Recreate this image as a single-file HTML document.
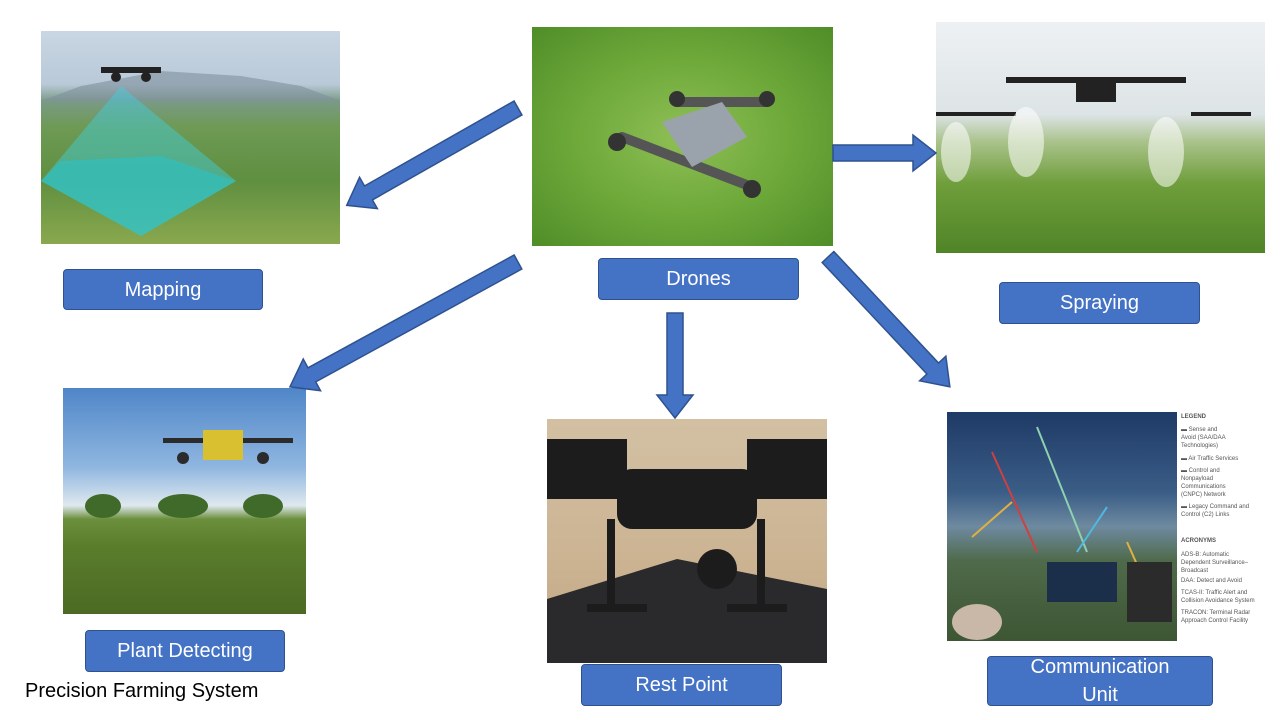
<!DOCTYPE html>
<html><head><meta charset="utf-8"><style>
body{margin:0;width:1280px;height:720px;background:#fff;position:relative;overflow:hidden;font-family:"Liberation Sans",sans-serif}
.img{position:absolute;overflow:hidden}
.lbl{position:absolute;background:#4472C4;border:1.5px solid #2F528F;border-radius:4px;color:#fff;font-size:20px;display:flex;align-items:center;justify-content:center;text-align:center;line-height:28px;box-sizing:border-box}
.leg{position:absolute;left:1181px;font-size:6px;color:#555;line-height:8px}
</style></head><body>

<div class="img" style="left:41px;top:31px;width:299px;height:213px;background:linear-gradient(180deg,#c9d6e3 0%,#b9c9d8 25%,#7a9a86 33%,#6e9a55 45%,#5f8f40 70%,#8aa84e 100%)">
<svg width="299" height="213" style="position:absolute;left:0;top:0">
<polygon points="120,40 200,45 260,55 300,70 0,70 40,55" fill="#7f8f9c" opacity=".6"/>
<polygon points="80,55 0,150 100,205 195,150" fill="#3fd0e0" opacity=".45"/>
<polygon points="0,150 100,205 195,150 120,125 20,130" fill="#2bc2c8" opacity=".6"/>
<g fill="#222"><rect x="60" y="36" width="60" height="6"/><circle cx="75" cy="46" r="5"/><circle cx="105" cy="46" r="5"/></g>
</svg></div>

<div class="img" style="left:532px;top:27px;width:301px;height:219px;background:radial-gradient(ellipse at 50% 50%,#8fbf55 0%,#6ea93a 50%,#4f8d28 100%)">
<svg width="301" height="219" style="position:absolute;left:0;top:0">
<g stroke="#555" stroke-width="10" stroke-linecap="round"><line x1="90" y1="110" x2="220" y2="160"/><line x1="150" y1="70" x2="230" y2="180" stroke-width="0"/><line x1="145" y1="75" x2="235" y2="75"/></g>
<polygon points="130,95 190,75 215,110 160,140" fill="#9aa3ab"/>
<circle cx="85" cy="115" r="9" fill="#333"/><circle cx="220" cy="162" r="9" fill="#333"/><circle cx="145" cy="72" r="8" fill="#333"/><circle cx="235" cy="72" r="8" fill="#333"/>
</svg></div>

<div class="img" style="left:936px;top:22px;width:329px;height:231px;background:linear-gradient(180deg,#eef1f3 0%,#dde4e6 40%,#a9c28a 52%,#6f9e3b 70%,#4f8427 100%)">
<svg width="329" height="231" style="position:absolute;left:0;top:0">
<g fill="#222"><rect x="70" y="55" width="180" height="6"/><rect x="140" y="60" width="40" height="20"/><rect x="0" y="90" width="80" height="4"/><rect x="255" y="90" width="60" height="4"/></g>
<g fill="#fff" opacity=".55"><ellipse cx="20" cy="130" rx="15" ry="30"/><ellipse cx="90" cy="120" rx="18" ry="35"/><ellipse cx="230" cy="130" rx="18" ry="35"/></g>
</svg></div>

<div class="img" style="left:63px;top:388px;width:243px;height:226px;background:linear-gradient(180deg,#4f86c8 0%,#8fb6e0 35%,#dfe8ee 52%,#6b8f3c 58%,#5a7d2c 70%,#4c6a23 100%)">
<svg width="243" height="226" style="position:absolute;left:0;top:0">
<g fill="#2b2b2b"><rect x="100" y="50" width="130" height="5"/><rect x="140" y="42" width="40" height="30" fill="#d8c030"/><circle cx="120" cy="70" r="6"/><circle cx="200" cy="70" r="6"/></g>
<g fill="#3f6a2a"><ellipse cx="40" cy="118" rx="18" ry="12"/><ellipse cx="120" cy="118" rx="25" ry="12"/><ellipse cx="200" cy="118" rx="20" ry="12"/></g>
</svg></div>

<div class="img" style="left:547px;top:419px;width:280px;height:244px;background:linear-gradient(180deg,#d3c0a3 0%,#cbb392 60%,#bfa684 100%)">
<svg width="280" height="244" style="position:absolute;left:0;top:0">
<polygon points="0,180 130,140 280,170 280,244 0,244" fill="#2a2a2c"/>
<g fill="#1c1c1c"><rect x="0" y="20" width="80" height="60"/><rect x="200" y="20" width="80" height="60"/><rect x="70" y="50" width="140" height="60" rx="15"/><rect x="60" y="100" width="8" height="90"/><rect x="210" y="100" width="8" height="90"/><rect x="40" y="185" width="60" height="8"/><rect x="180" y="185" width="60" height="8"/><circle cx="170" cy="150" r="20"/></g>
</svg></div>

<div class="img" style="left:947px;top:412px;width:230px;height:229px;background:linear-gradient(180deg,#1e3a66 0%,#3a5d86 35%,#6e8aa0 50%,#4f6a4a 65%,#3d5634 100%)">
<svg width="230" height="229" style="position:absolute;left:0;top:0">
<g stroke-width="2"><line x1="90" y1="15" x2="140" y2="140" stroke="#8fd0b0"/><line x1="45" y1="40" x2="90" y2="140" stroke="#d04040"/><line x1="65" y1="90" x2="25" y2="125" stroke="#e0b040"/><line x1="180" y1="130" x2="200" y2="175" stroke="#e0b040"/><line x1="160" y1="95" x2="130" y2="140" stroke="#50b8e0"/></g>
<rect x="100" y="150" width="70" height="40" fill="#1c2f4a"/><rect x="180" y="150" width="45" height="60" fill="#2b2b2b"/><ellipse cx="30" cy="210" rx="25" ry="18" fill="#c9b8a8"/>
</svg></div>
<div class="leg" style="top:413px;font-weight:bold">LEGEND</div>
<div class="leg" style="top:426px">▬ Sense and<br>Avoid (SAA/DAA<br>Technologies)</div>
<div class="leg" style="top:455px">▬ Air Traffic Services</div>
<div class="leg" style="top:467px">▬ Control and<br>Nonpayload<br>Communications<br>(CNPC) Network</div>
<div class="leg" style="top:503px">▬ Legacy Command and<br>Control (C2) Links</div>
<div class="leg" style="top:537px;font-weight:bold">ACRONYMS</div>
<div class="leg" style="top:551px">ADS-B: Automatic<br>Dependent Surveillance–<br>Broadcast</div>
<div class="leg" style="top:577px">DAA: Detect and Avoid</div>
<div class="leg" style="top:589px">TCAS-II: Traffic Alert and<br>Collision Avoidance System</div>
<div class="leg" style="top:609px">TRACON: Terminal Radar<br>Approach Control Facility</div>

<svg width="1280" height="720" style="position:absolute;left:0;top:0">
<defs><polygon id="ar" points="0,-8 -22,-8 -22,-18 0,0 -22,18 -22,8 0,8" /></defs>
<g fill="#4472C4" stroke="#2F528F" stroke-width="1.5">
<g transform="translate(347,205) rotate(150.4)"><polygon points="0,-8 197,-8 197,8 0,8" transform="rotate(180)" style="display:none"/></g>
</g>
<g fill="#4472C4" stroke="#2F528F" stroke-width="1.5">
<polygon transform="translate(518,108) rotate(150.4)" points="0,-8 172,-8 172,-18 197,0 172,18 172,8 0,8"/>
<polygon transform="translate(833,153)" points="0,-8 80,-8 80,-18 103,0 80,18 80,8 0,8"/>
<polygon transform="translate(518,262) rotate(151.3)" points="0,-8 235,-8 235,-18 260,0 235,18 235,8 0,8"/>
<polygon transform="translate(675,313) rotate(90)" points="0,-8 82,-8 82,-18 105,0 82,18 82,8 0,8"/>
<polygon transform="translate(828,257) rotate(46.8)" points="0,-8 153,-8 153,-18 178,0 153,18 153,8 0,8"/>
</g></svg>

<div class="lbl" style="left:63px;top:269px;width:200px;height:41px">Mapping</div>
<div class="lbl" style="left:598px;top:258px;width:201px;height:42px">Drones</div>
<div class="lbl" style="left:999px;top:282px;width:201px;height:42px">Spraying</div>
<div class="lbl" style="left:85px;top:630px;width:200px;height:42px">Plant Detecting</div>
<div class="lbl" style="left:581px;top:664px;width:201px;height:42px">Rest Point</div>
<div class="lbl" style="left:987px;top:656px;width:226px;height:50px">Communication<br>Unit</div>
<div style="position:absolute;left:25px;top:680px;font-size:20px;color:#000">Precision Farming System</div>
</body></html>
